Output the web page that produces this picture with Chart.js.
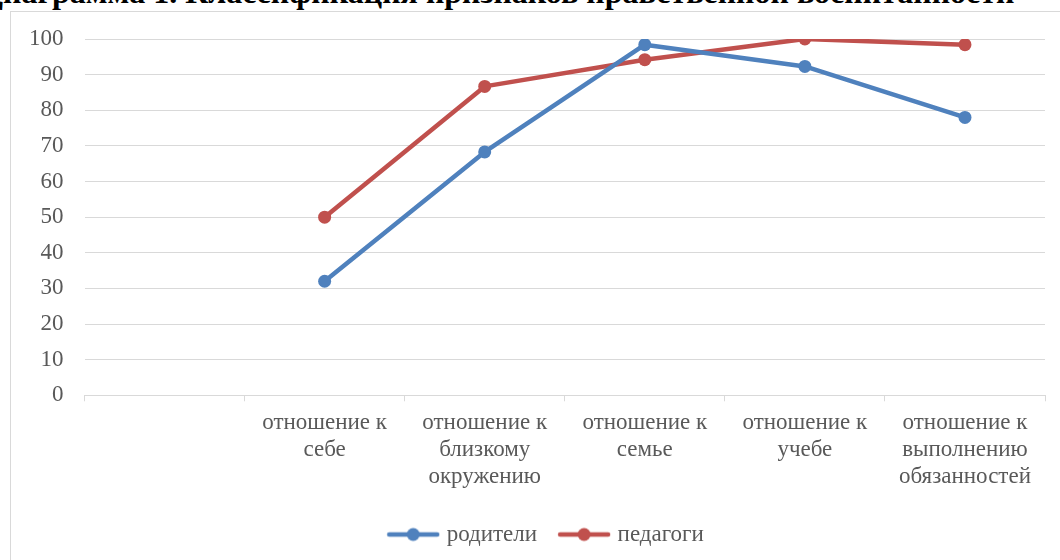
<!DOCTYPE html>
<html>
<head>
<meta charset="utf-8">
<script src="https://cdn.jsdelivr.net/npm/chart.js@4"></script>
<style>
  html, body { margin: 0; padding: 0; background: #fff; overflow: hidden; }
  #wrap { position: relative; width: 1060px; height: 560px; overflow: hidden; }
  #title {
    position: absolute; left: -19px; top: -26px; white-space: nowrap;
    font: bold 32px 'Liberation Serif', serif; color: #000;
  }
  #frame {
    position: absolute; left: 10px; top: 11px; width: 1100px; height: 600px;
    border: 1px solid #d9d9d9; box-sizing: border-box;
  }
  #box { position: absolute; left: 0; top: 0; width: 1060px; height: 560px; }
</style>
</head>
<body>
<div id="wrap">
  <div id="title">Диаграмма 1. Классификация признаков нравственной воспитанности</div>
  <div id="frame"></div>
  <div id="box"><canvas id="chart"></canvas></div>
</div>
<script>
// categories (first slot is empty in the source chart)
const categories = [
    '',
    ['отношение к', 'себе'],
    ['отношение к', 'близкому', 'окружению'],
    ['отношение к', 'семье'],
    ['отношение к', 'учебе'],
    ['отношение к', 'выполнению', 'обязанностей']
];
const parents = [null, 32, 68.3, 98.4, 92.3, 78];
const teachers = [null, 50, 86.7, 94.2, 100, 98.4];
const seriesNames = ['родители', 'педагоги'];
const seriesColors = ['#4F81BD', '#C0504D'];

const serif = 'Liberation Serif';
const tickFont = { family: serif, size: 23 };
const textColor = '#595959';

// legend icon: short line with a marker, like in the office chart
function legendIcon(color) {
    const c = document.createElement('canvas');
    c.width = 54; c.height = 16;
    const g = c.getContext('2d');
    g.strokeStyle = color;
    g.lineWidth = 4.5;
    g.lineCap = 'round';
    g.beginPath();
    g.moveTo(3, 8);
    g.lineTo(51, 8);
    g.stroke();
    g.fillStyle = color;
    g.beginPath();
    g.arc(27, 8, 6.5, 0, Math.PI * 2);
    g.fill();
    return c;
}

// nudge the legend to the right, the source centres it on the page
const legendShift = {
    id: 'legendShift',
    afterLayout(chart) {
        if (!chart.legend) return;
        chart.legend.left += 21;
        chart.legend.right += 21;
    }
};

const ctx = document.getElementById('chart').getContext('2d');
new Chart(ctx, {
    type: 'line',
    data: {
        labels: categories,
        datasets: [parents, teachers].map((d, i) => ({
            label: seriesNames[i],
            data: d,
            borderColor: seriesColors[i],
            backgroundColor: seriesColors[i],
            borderWidth: 4.5,
            pointRadius: 6.5,
            pointHoverRadius: 6.5,
            pointBorderWidth: 0,
            tension: 0,
            borderCapStyle: 'round',
            borderJoinStyle: 'round'
        }))
    },
    plugins: [legendShift],
    options: {
        responsive: true,
        maintainAspectRatio: false,
        animation: false,
        layout: { padding: { left: 8, right: 15, top: 39, bottom: 4 } },
        plugins: {
            title: { display: false },
            tooltip: { enabled: false },
            legend: {
                position: 'bottom',
                labels: {
                    usePointStyle: true,
                    pointStyleWidth: 44,
                    padding: 25,
                    color: textColor,
                    font: tickFont,
                    generateLabels: chart => chart.data.datasets.map((ds, i) => ({
                        text: ds.label,
                        fillStyle: ds.borderColor,
                        strokeStyle: ds.borderColor,
                        fontColor: textColor,
                        pointStyle: legendIcon(ds.borderColor),
                        datasetIndex: i,
                        hidden: false
                    }))
                }
            }
        },
        scales: {
            x: {
                offset: true,
                grid: {
                    offset: true,
                    drawOnChartArea: false,
                    drawTicks: true,
                    tickLength: 6,
                    color: '#d9d9d9'
                },
                border: { display: true, color: '#d9d9d9', width: 1 },
                ticks: {
                    color: textColor,
                    font: { ...tickFont, lineHeight: 1.17 },
                    maxRotation: 0,
                    autoSkip: false,
                    padding: 8
                }
            },
            y: {
                min: 0,
                max: 100,
                ticks: {
                    stepSize: 10,
                    color: textColor,
                    font: tickFont,
                    padding: 21
                },
                grid: { color: '#d9d9d9', lineWidth: 1, drawTicks: false },
                border: { display: false }
            }
        }
    }
});
</script>
</body>
</html>
